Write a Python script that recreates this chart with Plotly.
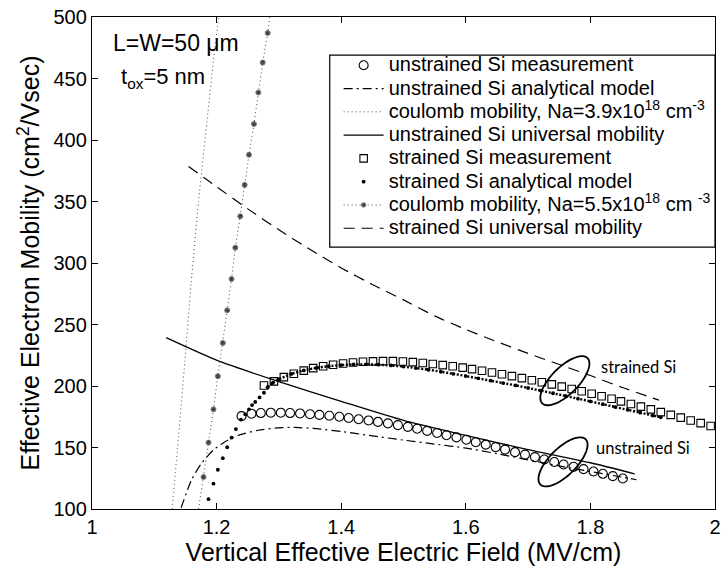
import numpy as np
import plotly.graph_objects as go

# ---- data (field in MV/cm, mobility in cm^2/Vsec) ----
# unstrained Si measurement
uns_meas_x = [1.240, 1.256, 1.271, 1.287, 1.303, 1.318, 1.334, 1.350, 1.365, 1.381,
              1.397, 1.412, 1.428, 1.444, 1.459, 1.475, 1.491, 1.507, 1.522, 1.538,
              1.554, 1.569, 1.585, 1.601, 1.616, 1.632, 1.648, 1.663, 1.679, 1.695,
              1.711, 1.726, 1.742, 1.757, 1.773, 1.789, 1.805, 1.820, 1.836, 1.852]
uns_meas_y = [175.5, 177.5, 178.0, 178.3, 178.3, 178.0, 177.7, 177.0, 176.5, 175.8,
              175.0, 174.0, 173.0, 172.0, 170.8, 169.6, 168.2, 166.8, 165.2, 163.5,
              161.8, 160.0, 158.2, 156.3, 154.3, 152.3, 150.3, 148.3, 146.2, 144.2,
              142.2, 140.2, 138.2, 136.2, 134.3, 132.4, 130.5, 128.6, 126.7, 124.8]

# unstrained Si analytical model
uns_model_x = [1.143, 1.160, 1.176, 1.195, 1.2135, 1.235, 1.2665, 1.298, 1.325, 1.36,
               1.40, 1.45, 1.50, 1.55, 1.60, 1.65, 1.70, 1.75, 1.80, 1.85, 1.874]
uns_model_y = [101.0, 124.0, 137.3, 148.0, 154.7, 160.0, 164.0, 166.0, 166.3, 165.3,
               163.0, 159.5, 156.0, 152.8, 149.5, 145.0, 140.0, 135.0, 130.5, 126.0, 123.8]

# coulomb mobility, Na = 3.9e18 cm^-3
coul39_x = [1.1286, 1.139, 1.149, 1.159, 1.171, 1.186, 1.195, 1.203, 1.205]
coul39_y = [100.0, 160.0, 220.0, 283.0, 350.0, 422.0, 465.0, 499.0, 510.0]

# unstrained Si universal mobility
uns_univ_x = [1.119, 1.20, 1.30, 1.40, 1.50, 1.60, 1.70, 1.80, 1.871]
uns_univ_y = [239.3, 221.0, 203.5, 187.5, 172.0, 159.8, 148.3, 137.6, 128.6]

# strained Si measurement
str_meas_x = [1.276, 1.292, 1.308, 1.324, 1.340, 1.355, 1.371, 1.387, 1.403, 1.419,
              1.435, 1.451, 1.467, 1.483, 1.499, 1.515, 1.531, 1.547, 1.563, 1.579,
              1.595, 1.610, 1.626, 1.642, 1.658, 1.674, 1.690, 1.706, 1.722, 1.738,
              1.754, 1.770, 1.786, 1.802, 1.818, 1.834, 1.849, 1.865, 1.881, 1.897,
              1.913, 1.929, 1.945, 1.961, 1.977, 1.993]
str_meas_y = [200.4, 203.8, 207.2, 210.0, 212.5, 214.5, 216.0, 217.3, 218.3, 219.1,
              219.7, 220.0, 220.2, 220.2, 219.9, 219.4, 218.7, 217.9, 217.0, 216.0,
              214.9, 213.7, 212.4, 211.0, 209.5, 208.0, 206.4, 204.7, 203.0, 201.3,
              199.5, 197.6, 195.7, 193.7, 191.7, 189.6, 187.5, 185.4, 183.2, 181.0,
              178.8, 176.5, 174.3, 172.0, 169.8, 167.5]

# strained Si analytical model
str_model_x = [1.187, 1.195, 1.202, 1.210, 1.217, 1.224, 1.231, 1.239, 1.246, 1.252,
               1.257, 1.262, 1.269, 1.276, 1.282, 1.290, 1.300, 1.320, 1.340, 1.360,
               1.380, 1.400, 1.420, 1.440, 1.460, 1.480, 1.500, 1.520, 1.540, 1.560,
               1.580, 1.600, 1.620, 1.640, 1.660, 1.680, 1.700, 1.720, 1.740, 1.760,
               1.780, 1.800, 1.820, 1.840, 1.860, 1.880, 1.900, 1.913]
str_model_y = [108.0, 120.6, 131.9, 141.3, 150.2, 158.0, 165.0, 172.7, 177.0, 181.0,
               184.5, 187.0, 190.7, 194.5, 199.0, 202.5, 205.5, 209.8, 212.7, 214.7,
               216.1, 217.0, 217.5, 217.6, 217.3, 216.7, 215.8, 214.6, 213.2, 211.6,
               209.9, 208.1, 206.2, 204.3, 202.4, 200.5, 198.4, 196.3, 194.1, 191.9,
               189.7, 187.5, 185.2, 182.9, 180.6, 178.3, 176.0, 174.5]

# coulomb mobility, Na = 5.5e18 cm^-3
coul55_x = [1.171, 1.179, 1.187, 1.195, 1.202, 1.210, 1.217, 1.224, 1.230, 1.238,
            1.245, 1.252, 1.260, 1.267, 1.274, 1.282, 1.288]
coul55_y = [100.0, 126.0, 154.0, 181.0, 208.0, 235.0, 261.5, 287.0, 312.5, 338.0,
            363.5, 388.0, 413.0, 438.6, 463.0, 487.0, 510.0]

# strained Si universal mobility
str_univ_x = [1.155, 1.20, 1.25, 1.30, 1.35, 1.40, 1.45, 1.50, 1.55, 1.60,
              1.65, 1.70, 1.75, 1.80, 1.85, 1.91]
str_univ_y = [378.4, 362.0, 344.0, 327.0, 311.0, 296.0, 282.5, 270.0, 257.0, 246.0,
              236.0, 226.5, 217.5, 208.5, 199.0, 188.5]

x_ticks = [1, 1.2, 1.4, 1.6, 1.8, 2]
x_tick_labels = ["1", "1.2", "1.4", "1.6", "1.8", "2"]
y_ticks = [100, 150, 200, 250, 300, 350, 400, 450, 500]

legend_names = [
    "unstrained Si measurement",
    "unstrained Si analytical model",
    "coulomb mobility, Na=3.9x10<sup>18</sup> cm<sup>-3</sup>",
    "unstrained Si universal mobility",
    "strained Si measurement",
    "strained Si analytical model",
    "coulomb mobility, Na=5.5x10<sup>18</sup> cm <sup>-3</sup>",
    "strained Si universal mobility",
]

# ---- styling ----
FONT = "Liberation Sans, Arial, Helvetica, sans-serif"
INK = "black"


def lbl(s):
    # legend rows stay compact while the label itself is set at 20 px
    return '<span style="font-size:20px">' + s + "</span>"


fig = go.Figure()

fig.add_trace(go.Scatter(
    x=uns_meas_x, y=uns_meas_y, mode="markers", name=lbl(legend_names[0]),
    marker=dict(symbol="circle-open", size=9, color=INK, line=dict(width=1.1, color=INK))))

fig.add_trace(go.Scatter(
    x=uns_model_x, y=uns_model_y, mode="lines", name=lbl(legend_names[1]),
    line=dict(color=INK, width=1.2, dash="9px,4px,2px,4px", shape="spline", smoothing=0.6)))

fig.add_trace(go.Scatter(
    x=coul39_x, y=coul39_y, mode="lines", name=lbl(legend_names[2]),
    line=dict(color="#444", width=1.0, dash="1px,3px", shape="spline", smoothing=0.6)))

fig.add_trace(go.Scatter(
    x=uns_univ_x, y=uns_univ_y, mode="lines", name=lbl(legend_names[3]),
    line=dict(color=INK, width=1.3, shape="spline", smoothing=0.6)))

fig.add_trace(go.Scatter(
    x=str_meas_x, y=str_meas_y, mode="markers", name=lbl(legend_names[4]),
    marker=dict(symbol="square-open", size=7.5, color=INK, line=dict(width=1.1, color=INK))))

fig.add_trace(go.Scatter(
    x=str_model_x, y=str_model_y, mode="markers", name=lbl(legend_names[5]),
    marker=dict(symbol="circle", size=3.8, color=INK)))

# dense part of the strained model curve, drawn as a run of tiny dots
dense_start = 14
fig.add_trace(go.Scatter(
    x=str_model_x[dense_start:], y=str_model_y[dense_start:], mode="lines",
    showlegend=False, hoverinfo="skip",
    line=dict(color=INK, width=2.4, dash="2px,1.6px", shape="spline", smoothing=0.6)))

coul55_sizes = [0] + [5] * (len(coul55_x) - 2) + [0]
fig.add_trace(go.Scatter(
    x=coul55_x, y=coul55_y, mode="lines+markers", name=lbl(legend_names[6]),
    line=dict(color="#444", width=1.0, dash="1px,3px"),
    marker=dict(symbol="circle", size=coul55_sizes, color=INK)))

fig.add_trace(go.Scatter(
    x=str_univ_x, y=str_univ_y, mode="lines", name=lbl(legend_names[7]),
    line=dict(color=INK, width=1.2, dash="11px,7px", shape="spline", smoothing=0.6)))

# ellipses grouping each measurement/model set
ellipses = [  # anchor x, anchor y, semi-major px, semi-minor px, tilt deg
    (1.759, 204.3, 32.0, 13.5, 45.0),
    (1.756, 138.3, 32.0, 13.5, 45.0),
]
t = np.linspace(0, 2 * np.pi, 73)
for cx, cy, a, b, ang in ellipses:
    th = np.deg2rad(ang)
    px = a * np.cos(t) * np.cos(th) - b * np.sin(t) * np.sin(th)
    py = a * np.cos(t) * np.sin(th) + b * np.sin(t) * np.cos(th)
    path = "M " + " L ".join(f"{u:.2f},{v:.2f}" for u, v in zip(px, py)) + " Z"
    fig.add_shape(type="path", path=path, xref="x", yref="y",
                  xsizemode="pixel", ysizemode="pixel", xanchor=cx, yanchor=cy,
                  line=dict(color=INK, width=1.8))

# legend frame
fig.add_shape(type="rect", xref="paper", yref="paper",
              x0=0.3816, x1=1.0, y0=0.5323, y1=0.9224,
              line=dict(color=INK, width=1.2), fillcolor="white", layer="above")

fig.add_annotation(x=1.877, y=215.7, xref="x", yref="y", text="strained Si",
                   showarrow=False, font=dict(family="Lato, sans-serif", size=16.5, color=INK))
fig.add_annotation(x=1.885, y=149.6, xref="x", yref="y", text="unstrained Si",
                   showarrow=False, font=dict(family="Lato, sans-serif", size=16.5, color=INK))

fig.add_annotation(x=0.030, y=0.948, xref="paper", yref="paper", xanchor="left", yanchor="middle",
                   text="L=W=50 \u03bcm", showarrow=False, font=dict(family=FONT, size=23, color=INK))
fig.add_annotation(x=0.043, y=0.876, xref="paper", yref="paper", xanchor="left", yanchor="middle",
                   text="t<sub>ox</sub>=5 nm", showarrow=False, font=dict(family=FONT, size=22, color=INK))

axis_common = dict(
    showline=True, linecolor=INK, linewidth=1.3, mirror="ticks",
    ticks="inside", ticklen=6, tickwidth=1.1, tickcolor=INK,
    showgrid=False, zeroline=False,
    tickfont=dict(family=FONT, size=20, color=INK),
)

fig.update_layout(
    width=727, height=571,
    margin=dict(l=92, r=6, t=13, b=62),
    paper_bgcolor="white", plot_bgcolor="white",
    font=dict(family=FONT, color=INK),
    xaxis=dict(range=[1, 2], tickvals=x_ticks, ticktext=x_tick_labels,
               title=dict(text="Vertical Effective Electric Field (MV/cm)",
                          font=dict(family=FONT, size=25, color=INK), standoff=4),
               **axis_common),
    yaxis=dict(range=[100, 500], tickvals=y_ticks,
               title=dict(text="Effective Electron Mobility (cm<sup>2</sup>/Vsec)",
                          font=dict(family=FONT, size=25, color=INK), standoff=6),
               **axis_common),
    legend=dict(x=0.3959, y=0.9357, xanchor="left", yanchor="top", itemwidth=40,
                bgcolor="rgba(0,0,0,0)", borderwidth=0,
                font=dict(family=FONT, size=15.6, color=INK), tracegroupgap=0),
    showlegend=True,
)

fig.write_html("out.html")
